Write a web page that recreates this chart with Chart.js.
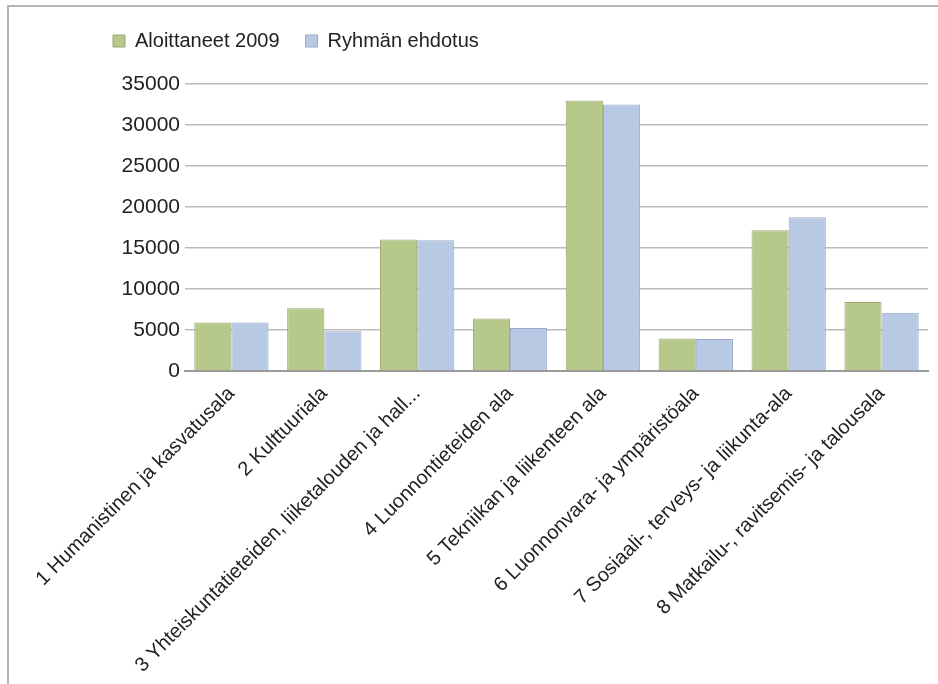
<!DOCTYPE html>
<html>
<head>
<meta charset="utf-8">
<script src="https://cdn.jsdelivr.net/npm/chart.js@4.4.1/dist/chart.umd.min.js"></script>
<style>
  html, body { margin: 0; padding: 0; background: #fff; overflow: hidden; }
  #frame { position: absolute; left: 7px; top: 5px; width: 960px; height: 700px;
           border-top: 2px solid #b5b5b5; border-left: 2px solid #b5b5b5; }
  #wrap { position: absolute; left: 0; top: 0; width: 938px; height: 684px; }
</style>
</head>
<body>
<div id="frame"></div>
<div id="wrap"><canvas id="myChart"></canvas></div>
<script>
// categories (x axis)
const categories = [
  "1 Humanistinen ja kasvatusala",
  "2 Kulttuuriala",
  "3 Yhteiskuntatieteiden, liiketalouden ja hall...",
  "4 Luonnontieteiden ala",
  "5 Tekniikan ja liikenteen ala",
  "6 Luonnonvara- ja ympäristöala",
  "7 Sosiaali-, terveys- ja liikunta-ala",
  "8 Matkailu-, ravitsemis- ja talousala"
];
// series
const aloittaneet = [5900, 7650, 16050, 6400, 33000, 3950, 17150, 8400];
const ehdotus = [5900, 4850, 15950, 5250, 32500, 3900, 18750, 7100];
// y tick labels
const yTicks = [0, 5000, 10000, 15000, 20000, 25000, 30000, 35000];

const fontFamily = "'Liberation Sans', Arial, sans-serif";
const textColor = "#222";

// extra room under the legend
const legendSpacer = {
  id: "legendSpacer",
  beforeInit(chart) {
    const fit = chart.legend.fit;
    chart.legend.fit = function () {
      fit.bind(chart.legend)();
      this.height += 23;
    };
  },
};

const ctx = document.querySelector("#myChart").getContext("2d");

new Chart(ctx, {
  type: "bar",
  data: {
    labels: categories,
    datasets: [
      {
        label: "Aloittaneet 2009",
        data: aloittaneet,
        backgroundColor: "#b7c98a",
        borderColor: "#98a874",
        borderWidth: 1,
      },
      {
        label: "Ryhmän ehdotus",
        data: ehdotus,
        backgroundColor: "#b8c9e4",
        borderColor: "#97a9c6",
        borderWidth: 1,
      },
    ],
  },
  plugins: [legendSpacer],
  options: {
    responsive: true,
    maintainAspectRatio: false,
    animation: false,
    layout: { padding: { left: 87, right: 10, top: 5, bottom: 0 } },
    datasets: { bar: { categoryPercentage: 0.8, barPercentage: 1.0 } },
    plugins: {
      tooltip: { enabled: false },
      legend: {
        position: "top",
        align: "start",
        labels: {
          boxWidth: 12,
          boxHeight: 12,
          padding: 26,
          color: textColor,
          font: { family: fontFamily, size: 20 },
        },
      },
    },
    scales: {
      x: {
        grid: { display: false },
        border: { display: true, color: "#9a9a9a", width: 2 },
        ticks: {
          autoSkip: false,
          minRotation: 45,
          maxRotation: 45,
          color: textColor,
          font: { family: fontFamily, size: 20 },
        },
        afterFit: (scale) => {
          scale.height = 313;
          scale.paddingLeft = 0;
          scale.paddingRight = 0;
        },
      },
      y: {
        min: 0,
        max: 35000,
        grid: { color: "#bcbcbc", lineWidth: 1.5, drawTicks: false },
        border: { display: false },
        ticks: {
          padding: 5,
          color: textColor,
          font: { family: fontFamily, size: 21 },
          callback: (v) => String(v),
        },
        afterBuildTicks: (scale) => {
          scale.ticks = yTicks.map((v) => ({ value: v }));
        },
        afterFit: (scale) => {
          scale.width = 98;
        },
      },
    },
  },
});
</script>
</body>
</html>
